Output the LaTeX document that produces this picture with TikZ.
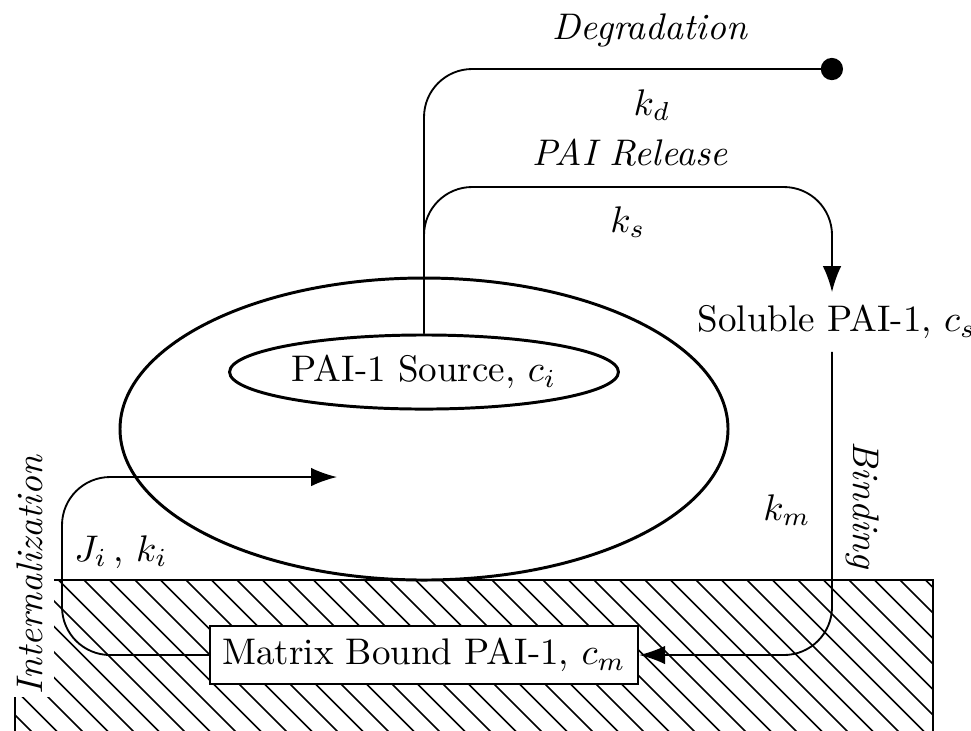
\documentclass[tikz,border=0pt]{standalone}
\usepackage{amsmath}
\usepackage{tikz}
\usetikzlibrary{arrows.meta,shapes.geometric}

\begin{document}
\begin{tikzpicture}[>={Latex[length=7pt,width=5pt]},x=0.27pt,y=-0.27pt,
    link/.style={line width=0.5pt,rounded corners=13pt},
    hatch/.style={line width=0.4pt},
    rate/.style={font=\itshape}]
  \useasboundingbox (0,0) rectangle (971,730);
  % hatched matrix
  \begin{scope}
    \clip (15,580) rectangle (933,740);
    \foreach \i in {0,...,46}
      \draw[hatch] (\i*25.5-196.5,580) -- ++(170,170);
  \end{scope}
  \draw[line width=0.5pt] (15,580) rectangle (933,740);
  \fill[white] (12,577) rectangle (54,697);
  \node[rotate=90,rate] (intl) at (30,575) {Internalization};
  % cell and source
  \draw[line width=0.8pt] (424,429) ellipse [x radius=304,y radius=151];
  \node[ellipse,draw,line width=0.8pt,minimum width=105pt,minimum height=20pt,inner sep=0pt] (src) at (424,372) {PAI-1 Source, $c_i$};
  \node[anchor=west,inner xsep=0pt] (sol) at (697,322) {Soluble PAI-1, $c_s$};
  \node[draw,fill=white,line width=0.6pt,minimum width=113pt,minimum height=15.4pt] (mat) at (424,655) {Matrix Bound PAI-1, $c_m$};
  % connectors
  \coordinate (degend) at (843,69);
  \coordinate (relc) at (832,187);
  \coordinate (intc) at (62,477);
  \coordinate (inttip) at (337,477);
  \draw[link,-{Circle[length=6pt]}] (src.north) |- (degend);
  \draw[link,->] (src.north) |- (relc) -- (relc |- sol.north);
  \draw[link,->] (relc |- sol.south) |- (mat.east);
  \draw[link,->] (mat.west) -| (intc) -- (inttip);
  % labels
  \node[rate] (deg) at (650,30) {Degradation};
  \node (kd) at (652,105) {$k_d$};
  \node[rate] (rel) at (630,153) {PAI Release};
  \node (ks) at (628,222) {$k_s$};
  \node (km) at (787,510) {$k_m$};
  \node[rate,rotate=-90] (bind) at (863,505) {Binding};
  \node (jk) at (121,552) {$J_i$\,, $k_i$};
\end{tikzpicture}
\end{document}
